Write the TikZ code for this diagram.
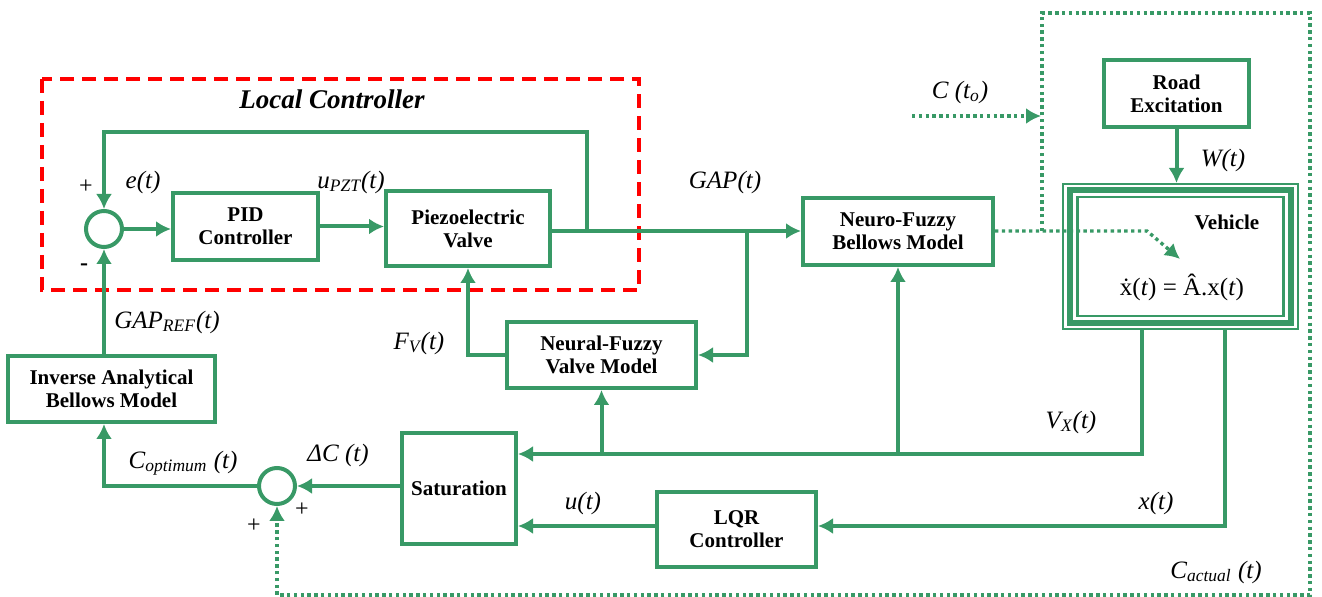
\documentclass[tikz,border=0pt]{standalone}
\usepackage{fontspec}
\setmainfont{Liberation Serif}
\usetikzlibrary{arrows.meta}
\definecolor{fgreen}{RGB}{56,153,102}
\tikzset{
  blk/.style={draw=fgreen, line width=2pt, align=center, inner sep=0pt, font=\fontsize{10.5}{11.5}\selectfont\bfseries},
  sumc/.style={draw=fgreen, circle, line width=2pt, minimum size=18pt, inner sep=0pt},
  ln/.style={fgreen, line width=2pt},
  arr/.style={ln, -{Latex[length=7.5pt,width=8pt]}},
  dots/.style={fgreen, line width=1.7pt, dash pattern=on 1.7pt off 1.7pt, -{Latex[length=7.5pt,width=8pt]}},
  lbl/.style={font=\fontsize{12.5}{14}\selectfont\itshape, inner sep=0pt},
  sgn/.style={font=\fontsize{12}{14}\selectfont, inner sep=0pt},
}
\begin{document}
\begin{tikzpicture}[x=0.5pt, y=-0.5pt]
\useasboundingbox (0,0) rectangle (1322,597);

% local controller frame
\draw[red, line width=2.2pt, dash pattern=on 7pt off 4pt] (42,79) rectangle (639,290);
\node[font=\fontsize{13.5}{15}\selectfont\bfseries\itshape] (lc) at (332,99) {Local Controller};

% blocks
\node[sumc] (sum1) at (104,229) {};
\node[sumc] (sum2) at (277,486) {};
\node[blk, minimum width=72.5pt, minimum height=33.5pt] (pid) at (245.5,226.5) {PID\\Controller};
\node[blk, minimum width=82pt, minimum height=37.5pt] (piezo) at (468,228.5) {Piezoelectric\\Valve};
\node[blk, minimum width=95pt, minimum height=33.5pt] (nfb) at (898,231.5) {Neuro-Fuzzy\\Bellows Model};
\node[blk, minimum width=94.5pt, minimum height=33pt] (nfv) at (601.5,355) {Neural-Fuzzy\\Valve Model};
\node[blk, minimum width=103.5pt, minimum height=33pt] (inv) at (111.5,389) {Inverse Analytical\\Bellows Model};
\node[blk, minimum width=57pt, minimum height=55.5pt] (sat) at (459,488.5) {Saturation};
\node[blk, minimum width=79.5pt, minimum height=37.5pt] (lqr) at (736.5,529.5) {LQR\\Controller};
\node[blk, minimum width=72.5pt, minimum height=33.5pt] (road) at (1176.5,93.5) {Road\\Excitation};

% vehicle, three frames
\node[draw=fgreen, line width=1pt, minimum width=117.5pt, minimum height=72.5pt] (veh) at (1180.5,256.5) {};
\node[draw=fgreen, line width=2.6pt, minimum width=110.5pt, minimum height=66.5pt] (vehm) at (veh) {};
\node[draw=fgreen, line width=1.1pt, minimum width=103pt, minimum height=59.5pt] (vehi) at (veh) {};
\node[font=\fontsize{10.5}{12}\selectfont\bfseries] (vlab) at (1227,222) {Vehicle};
\node[font=\fontsize{12.5}{14}\selectfont] (veq) at (1182,287) {\.{x}(\textit{t}) = \^{A}.x(\textit{t})};

% junctions
\coordinate (j1) at (587,231);
\coordinate (j2) at (747,231);
\coordinate (fb) at (587,132);
\coordinate (vxd) at (1142,454);
\coordinate (xd) at (1225,526);
\coordinate (dj) at (1042,231);
\coordinate (bend) at (1147,231);
\coordinate (vtip) at (1180,259);
\coordinate (dtl) at (1042,13);
\coordinate (dtr) at (1310,13);
\coordinate (dbr) at (1310,595);
\coordinate (c0s) at (912,116);
\coordinate (c0e) at (1041,116);

% signal lines
\draw[arr] (sum1.east) -- (sum1 -| pid.west);
\draw[arr] (pid.east) -- (pid.east -| piezo.west);
\draw[arr] (piezo.east |- j1) -- (j1 -| nfb.west);
\draw[arr] (j1) -- (fb) -| (sum1.north);
\draw[arr] (j2) |- (nfv.east);
\draw[arr] (nfv.west) -| (piezo.south);
\draw[arr] (sum1 |- inv.north) -- (sum1.south);
\draw[arr] (sum2.west) -| (sum1 |- inv.south);
\draw[arr] (sat.west |- sum2) -- (sum2.east);
\draw[arr] (vxd |- veh.south) -- (vxd) -- (vxd -| sat.east);
\draw[arr] (nfb |- vxd) -- (nfb.south);
\draw[arr] (nfv |- vxd) -- (nfv.south);
\draw[arr] (xd |- veh.south) -- (xd) -- (xd -| lqr.east);
\draw[arr] (lqr.west |- xd) -- (sat.east |- xd);
\draw[arr] (road.south) -- (road.south |- veh.north);

% dotted paths
\draw[dots] (nfb.east |- dj) -- (bend) -- (vtip);
\draw[dots] (dj) -- (dtl) -- (dtr) -- (dbr) -| (sum2.south);
\draw[dots] (c0s) -- (c0e);

% labels
\node[sgn] (p1) at (86,187) {+};
\node[sgn, font=\fontsize{12}{14}\selectfont\bfseries] (m1) at (84,267) {-};
\node[sgn] (p2) at (254,526) {+};
\node[sgn] (p3) at (302,510) {+};
\node[lbl] (le) at (143,182) {e(t)};
\node[lbl] (lupzt) at (351,182) {u\textsubscript{PZT}(t)};
\node[lbl] (lgap) at (725,182) {GAP(t)};
\node[lbl] (lgapref) at (167,322) {GAP\textsubscript{REF}(t)};
\node[lbl] (lfv) at (419,343) {F\textsubscript{V}(t)};
\node[lbl] (lcopt) at (183,463) {C\textsubscript{optimum} (t)};
\node[lbl] (ldc) at (338,455) {ΔC (t)};
\node[lbl] (lu) at (583,503) {u(t)};
\node[lbl] (lvx) at (1071,422) {V\textsubscript{X}(t)};
\node[lbl] (lx) at (1156,503) {x(t)};
\node[lbl] (lcact) at (1216,572) {C\textsubscript{actual} (t)};
\node[lbl] (lc0) at (960,92) {C (t\textsubscript{o})};
\node[lbl] (lw) at (1223,160) {W(t)};
\end{tikzpicture}
\end{document}
